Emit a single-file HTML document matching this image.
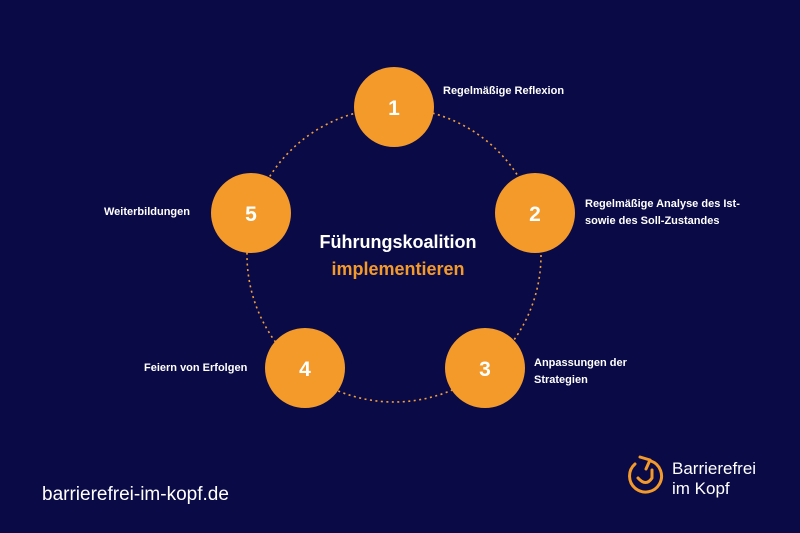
<!DOCTYPE html>
<html><head><meta charset="utf-8"><style>
html,body{margin:0;padding:0;}
body{width:800px;height:533px;background:#0a0a46;position:relative;overflow:hidden;font-family:"Liberation Sans",sans-serif;color:#fff;}
.t{position:absolute;font-size:11px;font-weight:bold;line-height:17px;}
</style></head><body>
<svg width="800" height="533" style="position:absolute;left:0;top:0">
<circle cx="394" cy="255" r="147" fill="none" stroke="#f2a03a" stroke-width="1.6" stroke-dasharray="2 3.5"/>
<g fill="#f39a2b">
<circle cx="394" cy="107" r="40"/>
<circle cx="535" cy="213" r="40"/>
<circle cx="251" cy="213" r="40"/>
<circle cx="485" cy="368" r="40"/>
<circle cx="305" cy="368" r="40"/>
</g>
<g fill="#fff" font-family="Liberation Sans" font-weight="bold" font-size="21" text-anchor="middle">
<text x="394" y="115">1</text><text x="535" y="221">2</text><text x="251" y="221">5</text><text x="485" y="376">3</text><text x="305" y="376">4</text>
</g>
<text x="398" y="248" fill="#fff" font-family="Liberation Sans" font-weight="bold" font-size="18" text-anchor="middle">Führungskoalition</text>
<text x="398" y="275" fill="#f39a2b" font-family="Liberation Sans" font-weight="bold" font-size="18" text-anchor="middle">implementieren</text>
<g fill="none" stroke="#f39a2b" stroke-width="3" stroke-linecap="round" stroke-linejoin="round">
<path d="M635 464 A16 16 0 1 0 651 461"/>
<path d="M638 478 Q646 487 652 478 L652 470"/>
<path d="M640 457 L650 460 L646 469"/>
</g>
</svg>
<div class="t" style="left:443px;top:83px">Regelmäßige Reflexion</div>
<div class="t" style="left:585px;top:196px">Regelmäßige Analyse des Ist-<br>sowie des Soll-Zustandes</div>
<div class="t" style="left:104px;top:204px">Weiterbildungen</div>
<div class="t" style="left:534px;top:355px">Anpassungen der<br>Strategien</div>
<div class="t" style="left:144px;top:360px">Feiern von Erfolgen</div>
<div style="position:absolute;left:42px;top:484px;font-size:19px">barrierefrei-im-kopf.de</div>
<div style="position:absolute;left:672px;top:459px;font-size:17px;line-height:20px">Barrierefrei<br>im Kopf</div>
</body></html>
